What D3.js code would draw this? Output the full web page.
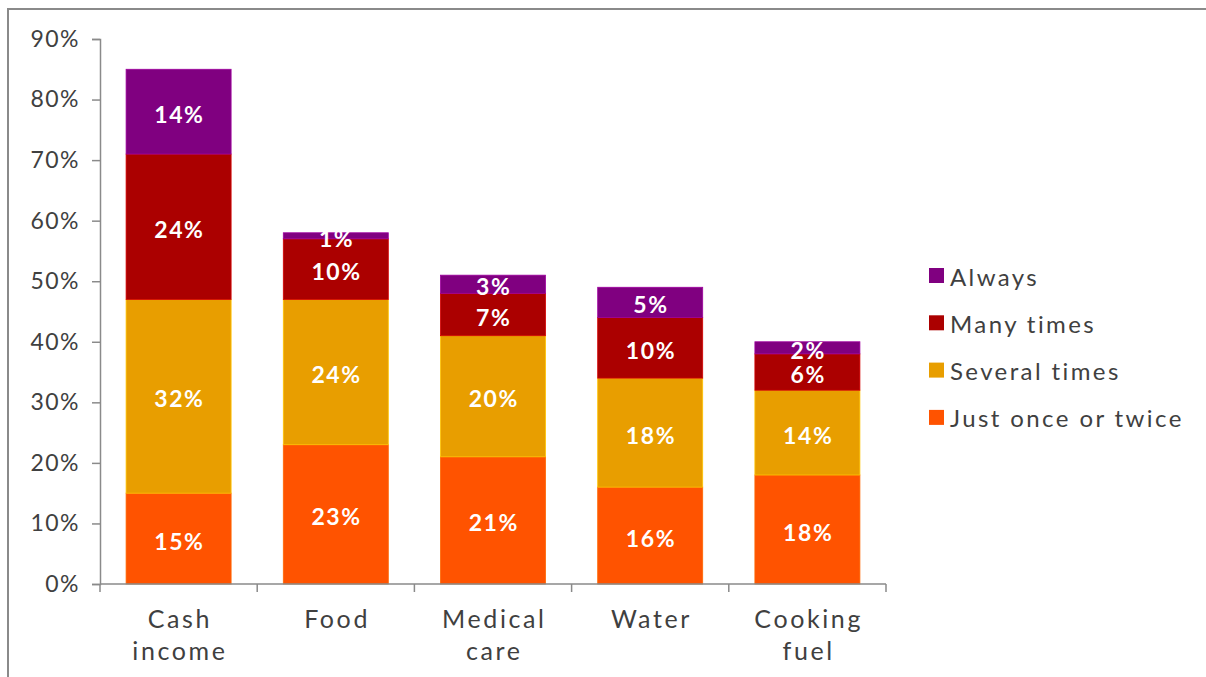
<!DOCTYPE html>
<html>
<head>
<meta charset="utf-8">
<script src="https://cdn.jsdelivr.net/npm/d3@7"></script>
<style>
  body { margin: 0; background: #fff; }
  svg { display: block; font-family: Lato, "DejaVu Sans", sans-serif; }
</style>
</head>
<body>
<div id="chart"></div>
<script>
// chart data
const categories = [["Cash", "income"], ["Food"], ["Medical", "care"], ["Water"], ["Cooking", "fuel"]];
const seriesNames = ["Just once or twice", "Several times", "Many times", "Always"];
const justOnce = [15, 23, 21, 16, 18];
const severalTimes = [32, 24, 20, 18, 14];
const manyTimes = [24, 10, 7, 10, 6];
const always = [14, 1, 3, 5, 2];
const yTicks = [0, 10, 20, 30, 40, 50, 60, 70, 80, 90];

const colors = ["#ff5300", "#e89e00", "#ab0000", "#800080"];

const width = 1206, height = 677;
const margins = {top: 39, bottom: 93, left: 100, right: 320};

const svg = d3.select("#chart").append("svg")
    .attr("width", width)
    .attr("height", height);

// outer frame
svg.append("rect")
    .attr("x", 8).attr("y", 9)
    .attr("width", width + 20).attr("height", height + 20)
    .attr("fill", "none")
    .attr("stroke", "#8a8a8a")
    .attr("stroke-width", 2);

const keys = categories.map(c => c.join(" "));
const rows = keys.map((k, i) => ({
    cat: k,
    "Just once or twice": justOnce[i],
    "Several times": severalTimes[i],
    "Many times": manyTimes[i],
    "Always": always[i]
}));

const x = d3.scaleBand()
    .domain(keys)
    .range([margins.left, 886])
    .paddingInner(0.332)
    .paddingOuter(0.166);

const y = d3.scaleLinear()
    .domain([0, 90])
    .range([584, margins.top]);

const stack = d3.stack().keys(seriesNames);
const stacked = stack(rows);

const g = svg.append("g");

// bars
stacked.forEach((layer, li) => {
    g.selectAll(".bar" + li)
        .data(layer)
        .enter().append("rect")
        .attr("x", d => x(d.data.cat))
        .attr("y", d => y(d[1]))
        .attr("width", x.bandwidth())
        .attr("height", d => y(d[0]) - y(d[1]))
        .attr("fill", colors[li])
        .attr("stroke", d3.color(colors[li]).brighter(0.6))
        .attr("stroke-width", 0.8);
});

// value labels
stacked.forEach((layer, li) => {
    g.selectAll(".lab" + li)
        .data(layer)
        .enter().append("text")
        .attr("x", d => x(d.data.cat) + x.bandwidth() / 2 + 0.8)
        .attr("y", d => (y(d[0]) + y(d[1])) / 2 + 2)
        .attr("text-anchor", "middle")
        .attr("dominant-baseline", "central")
        .attr("fill", "#fff")
        .attr("font-weight", 700)
        .attr("font-size", 23)
        .attr("letter-spacing", 1.6)
        .text(d => (d[1] - d[0]) + "%");
});

// y axis
const yAxis = svg.append("g")
    .attr("transform", `translate(${margins.left},0)`)
    .call(d3.axisLeft(y).tickValues(yTicks).tickSize(8).tickPadding(12).tickFormat(d => d + "%"));
yAxis.select(".domain").attr("stroke", "#8a8a8a").attr("stroke-width", 1.5);
yAxis.selectAll(".tick line").attr("stroke", "#8a8a8a").attr("stroke-width", 1.5);
yAxis.selectAll(".tick text")
    .attr("font-size", 23)
    .attr("fill", "#404040")
    .attr("letter-spacing", 1.5)
    .attr("font-family", "Lato, sans-serif");

// x axis line and separators
const xAxis = svg.append("g");
xAxis.append("line")
    .attr("x1", margins.left).attr("x2", 886)
    .attr("y1", y(0)).attr("y2", y(0))
    .attr("stroke", "#8a8a8a").attr("stroke-width", 1.5);
const step = x.step();
const sepX = d3.range(keys.length + 1).map(i => margins.left + i * step);
xAxis.selectAll(".sep")
    .data(sepX)
    .enter().append("line")
    .attr("x1", d => d).attr("x2", d => d)
    .attr("y1", y(0)).attr("y2", y(0) + 8)
    .attr("stroke", "#8a8a8a").attr("stroke-width", 1.5);

// category labels
const catText = xAxis.selectAll(".cat")
    .data(categories)
    .enter().append("text")
    .attr("text-anchor", "middle")
    .attr("fill", "#404040")
    .attr("font-size", 25)
    .attr("letter-spacing", 2.6)
    .attr("transform", (d, i) => `translate(${x(keys[i]) + x.bandwidth() / 2 + 1.3},628)`);
catText.selectAll("tspan")
    .data(d => d)
    .enter().append("tspan")
    .attr("x", 0)
    .attr("dy", (d, i) => i === 0 ? 0 : 32)
    .text(d => d);

// legend
const legendNames = seriesNames.slice().reverse();
const legendColors = colors.slice().reverse();
const legend = svg.append("g").attr("transform", "translate(929,276)");
legendNames.forEach((name, i) => {
    const row = legend.append("g").attr("transform", `translate(0,${i * 47.3})`);
    row.append("rect")
        .attr("x", 0).attr("y", -8)
        .attr("width", 15).attr("height", 15)
        .attr("fill", legendColors[i]);
    row.append("text")
        .attr("x", 21).attr("y", 0)
        .attr("dominant-baseline", "central")
        .attr("font-size", 24)
        .attr("letter-spacing", 2.4)
        .attr("fill", "#404040")
        .text(name);
});
</script>
</body>
</html>
